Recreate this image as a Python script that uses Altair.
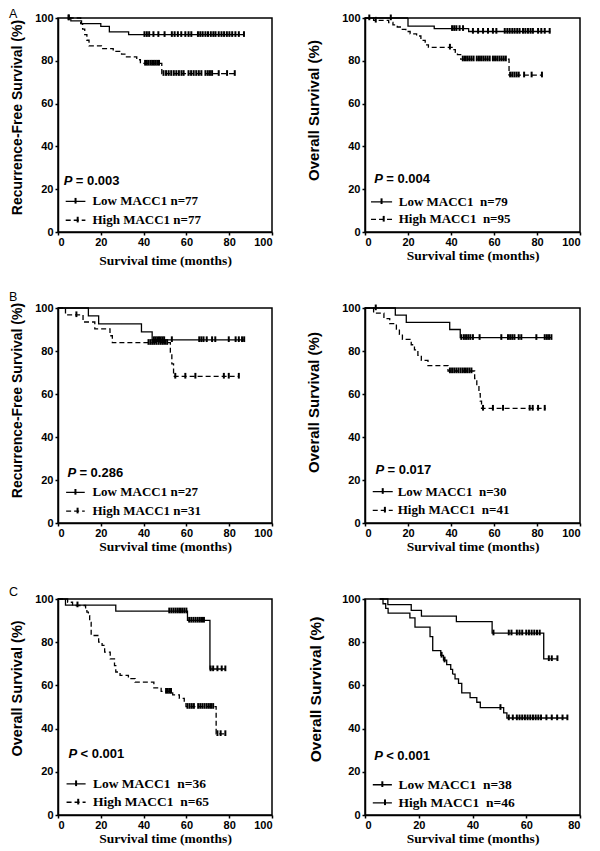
import altair as alt
import pandas as pd

XTITLE = "Survival time (months)"

# ---------------- Panel A left : Recurrence-free survival ----------------
a1_low_t = [5, 6, 11, 20, 24, 33, 86.9]
a1_low_s = [100, 98.7, 97.4, 96.1, 93.5, 92.2, 92.2]
a1_low_c = [5, 40.4, 41.5, 42.6, 44.6, 46.9, 49.8, 53.2, 54.5, 56.0, 57.6, 59.5, 61.0, 62.3,
            65.4, 66.5, 67.6, 68.9, 70.1, 71.4, 72.6, 73.6, 75.1, 76.4, 77.6, 78.9, 80.1,
            81.4, 82.9, 84.5, 86.9]
a1_high_t = [5, 10.6, 11.5, 12.5, 13.5, 14.5, 20.3, 25.8, 29.7, 32.0, 36.8, 38.5, 48.5, 82.6]
a1_high_s = [100, 97.4, 94.8, 92.2, 89.6, 87.0, 85.7, 84.4, 83.1, 81.8, 80.5, 78.8, 74.0, 74.0]
a1_high_c = [5, 40.7, 41.5, 42.3, 43.2, 44.0, 44.8, 45.6, 46.4, 47.2, 49.3, 50.5, 51.7, 52.9,
             54.1, 55.3, 56.5, 57.7, 58.7, 61.0, 62.2, 63.4, 64.6, 65.8, 67.0, 68.9, 70.0,
             71.0, 72.0, 75.1, 79.0, 82.6]

# ---------------- Panel A right : Overall survival ----------------
a2_low_t = [0, 20, 32.2, 48.2, 86.2]
a2_low_s = [100, 96.2, 95.0, 93.7, 93.7]
a2_low_c = [12, 40.5, 41.5, 42.5, 44.0, 45.6, 50.2, 52.6, 54.9, 57.2, 59.5, 61.1, 65.0, 66.2,
            67.3, 68.5, 69.6, 70.8, 71.9, 73.5, 74.6, 75.8, 77.0, 78.1, 80.5, 82.0, 83.6, 85.9]
a2_high_t = [0, 4, 11, 13, 15, 17, 19, 21, 24, 26, 28, 29.5, 40.5, 42, 43, 44.5, 67, 82.3]
a2_high_s = [100, 98.9, 97.9, 96.8, 95.8, 94.7, 93.7, 92.6, 91.6, 89.5, 87.4, 86.3, 85.2, 84.0,
             82.9, 80.8, 73.3, 73.3]
a2_high_c = [2, 5, 39.5, 45.5, 46.5, 47.5, 48.5, 49.5, 50.5, 52, 53, 54, 55, 56, 57, 58, 59.5,
             60.5, 61.5, 62.5, 63.5, 64.5, 65.5, 67.5, 68.5, 69.5, 70.5, 71.5, 74, 77.5, 82.3]

# ---------------- Panel B left : Recurrence-free survival ----------------
b1_low_t = [0, 14.2, 19, 39, 44, 87]
b1_low_s = [100, 96.3, 92.6, 88.9, 85.2, 85.2]
b1_low_c = [44.8, 45.6, 46.4, 47.2, 48.0, 48.8, 49.6, 53.2, 66.0, 67.0, 68.0, 69.5, 72.0, 73.5,
            79.8, 83.0, 84.5, 86.0, 87.0]
b1_high_t = [0, 3.5, 11.7, 17.2, 24.3, 25.4, 52.5, 53.2, 54.0, 84.5]
b1_high_s = [100, 96.8, 93.5, 90.3, 87.1, 83.9, 79.5, 74.0, 68.2, 68.2]
b1_high_c = [8.6, 42.3, 43.2, 44.1, 45.0, 46.0, 47.0, 48.0, 49.0, 50.0, 51.0, 54.8, 59.5, 64.2,
             77.5, 79.8, 84.5]

# ---------------- Panel B right : Overall survival ----------------
b2_low_t = [0, 14.1, 19.2, 39.4, 44.3, 86.7]
b2_low_s = [100, 96.7, 93.3, 90.0, 86.2, 86.2]
b2_low_c = [5, 44.8, 46.0, 47.0, 48.0, 49.0, 50.2, 53.3, 63.4, 66.5, 67.5, 68.5, 69.5, 71.5,
            72.7, 79.7, 83.6, 84.6, 85.6, 86.7]
b2_high_t = [0, 4, 8.8, 11.5, 14.6, 16, 17.4, 21.5, 23, 24.6, 26.2, 29.3, 38.6, 51, 52, 53,
             53.6, 54.2, 84]
b2_high_s = [100, 97.6, 95.1, 92.7, 90.2, 87.8, 85.4, 82.9, 80.5, 78.0, 75.6, 73.2, 70.7, 67.2,
             63.7, 60.2, 56.7, 53.3, 53.3]
b2_high_c = [39.5, 40.5, 41.5, 42.5, 43.5, 44.5, 45.5, 46.5, 47.5, 48.5, 49.5, 54.9, 59.5, 64.2,
             76.6, 78.0, 80.5, 83.6]

# ---------------- Panel C left : Overall survival ----------------
c1_low_t = [0, 3.5, 27, 60.5, 71, 78.2]
c1_low_s = [100, 97.2, 94.4, 90.1, 67.6, 67.6]
c1_low_c = [9.1, 52.0, 53.0, 54.0, 55.0, 56.0, 57.0, 58.0, 59.0, 60.0, 61.3, 62.3, 63.3, 64.3,
            65.3, 66.3, 67.3, 68.2, 71.3, 72.5, 74.5, 76.5, 78.2]
c1_high_t = [0, 4.5, 6.8, 12.9, 13.5, 14.2, 14.8, 15.5, 19, 20.6, 21.8, 24.4, 26.4, 27, 29,
             32.9, 36, 44.8, 48.2, 53.6, 56.7, 59, 59.8, 73.9, 78.2]
c1_high_s = [100, 98.5, 97.0, 95.4, 93.9, 92.3, 89.2, 83.1, 80.0, 78.5, 75.4, 72.3, 69.2, 66.2,
             64.6, 63.1, 61.5, 58.9, 57.2, 55.6, 54.0, 52.4, 50.2, 37.6, 37.6]
c1_high_c = [50.5, 51.3, 52.1, 52.8, 60.5, 61.5, 62.5, 63.5, 65.5, 66.5, 67.5, 68.5, 69.5, 70.5,
             71.5, 72.5, 74.5, 76.0, 78.2]

# ---------------- Panel C right : Overall survival ----------------
c2_low_t = [5.5, 8.5, 17.2, 21, 34, 47.3, 66.5, 71.6]
c2_low_s = [100, 97.4, 94.7, 92.1, 89.5, 84.2, 72.3, 72.3]
c2_low_c = [47.8, 53.5, 54.5, 56.5, 57.5, 58.5, 60.0, 61.0, 62.0, 63.0, 64.0, 65.0, 68.4, 69.5,
            71.6]
c2_high_t = [5.5, 6.7, 7.7, 8.6, 16.7, 18.6, 24.2, 25.2, 28.2, 29.2, 30.4, 31.9, 32.6, 33.5,
             34.8, 36.0, 39.1, 41.6, 42.9, 51.6, 52.8, 75.3]
c2_high_s = [100, 97.8, 95.7, 93.5, 91.3, 87.0, 82.6, 76.1, 73.9, 71.7, 69.6, 67.4, 65.2, 63.0,
             60.9, 56.5, 54.3, 52.2, 49.7, 47.3, 44.9, 44.9]
c2_high_c = [28.5, 29.6, 50.4, 53.5, 55.0, 56.5, 57.5, 58.5, 59.5, 60.5, 61.5, 62.5, 63.5, 64.5,
             65.5, 67.5, 69.5, 71.5, 73.5, 75.3]

# ---------------- texts ----------------
p_values = ["= 0.003", "= 0.004", "= 0.286", "= 0.017", "< 0.001", "< 0.001"]
legend_low = ["Low MACC1 n=77", "Low MACC1\u00a0 n=79", "Low MACC1 n=27",
              "Low MACC1\u00a0 n=30", "Low MACC1\u00a0 n=36", "Low MACC1\u00a0 n=38"]
legend_high = ["High MACC1 n=77", "High MACC1\u00a0 n=95", "High MACC1 n=31",
               "High MACC1\u00a0 n=41", "High MACC1\u00a0 n=65", "High MACC1\u00a0 n=46"]
y_titles = ["Recurrence-Free Survival (%)", "Overall Survival (%)",
            "Recurrence-Free Survival (%)", "Overall Survival (%)",
            "Overall Survival (%)", "Overall Survival (%)"]
letters = ["A", None, "B", None, "C", None]

CENSOR = "M0,-1.1L0,0.7"


def level_at(ts, ss, c):
    lvl = ss[0]
    for t, s in zip(ts, ss):
        if t <= c:
            lvl = s
        else:
            break
    return lvl


def panel(i, low_t, low_s, low_c, high_t, high_s, high_c, xmax, w, h, lay, high_dashed=True):
    curve = pd.DataFrame(
        [{"g": "low", "t": t, "s": s} for t, s in zip(low_t, low_s)]
        + [{"g": "high", "t": t, "s": s} for t, s in zip(high_t, high_s)])
    cens = pd.DataFrame(
        [{"g": "low", "t": c, "s": level_at(low_t, low_s, c)} for c in low_c]
        + [{"g": "high", "t": c, "s": level_at(high_t, high_s, c)} for c in high_c])

    lx1, lx2, ltx, ly1, ly2 = lay["leg"]
    leg = pd.DataFrame([
        {"g": "low", "t": lx1, "t2": lx2, "tm": (lx1 + lx2) / 2, "tx": ltx, "s": ly1,
         "label": legend_low[i]},
        {"g": "high", "t": lx1, "t2": lx2, "tm": (lx1 + lx2) / 2 + 1, "tx": ltx, "s": ly2,
         "label": legend_high[i]},
    ])
    ptab = pd.DataFrame([{"t": lay["p"][0], "s": lay["p"][1], "label": p_values[i]}])

    xaxis = alt.Axis(values=list(range(0, xmax + 1, 20)), title=XTITLE, grid=False,
                     titleY=lay["xty"], titleFont="Liberation Serif", titleFontSize=13.5,
                     titleFontWeight="bold")
    yaxis = alt.Axis(values=[0, 20, 40, 60, 80, 100], title=y_titles[i], grid=False,
                     titleX=lay["ytx"], titleY=lay["yty"], titleFontSize=lay["ytfs"])
    xsc = alt.Scale(domain=[0, xmax], nice=False)
    ysc = alt.Scale(domain=[0, 100], nice=False)
    dash = alt.StrokeDash("g:N", legend=None,
                          scale=alt.Scale(domain=["low", "high"],
                                          range=[[1, 0], [5, 3] if high_dashed else [1, 0]]))

    X = alt.X("t:Q", scale=xsc, axis=xaxis)
    Y = alt.Y("s:Q", scale=ysc, axis=yaxis)
    lines = alt.Chart(curve).mark_line(interpolate="step-after", color="black",
                                       strokeWidth=1.3).encode(
        x=X, y=Y, detail="g:N", strokeDash=dash)
    ticks = alt.Chart(cens).mark_point(shape=CENSOR, size=40, color="black",
                                       strokeWidth=2, opacity=1).encode(x=X, y=Y)
    legr = alt.Chart(leg).mark_rule(color="black", strokeWidth=1.3).encode(
        x=X, x2="t2:Q", y=Y, strokeDash=dash)
    legt = alt.Chart(leg).mark_point(shape=CENSOR, size=40, color="black",
                                     strokeWidth=2, opacity=1).encode(
        x=alt.X("tm:Q", scale=xsc, axis=xaxis), y=Y)
    legx = alt.Chart(leg).mark_text(align="left", baseline="middle", font="Liberation Serif",
                                    fontWeight="bold", fontSize=lay["lfs"], color="black").encode(
        x=alt.X("tx:Q", scale=xsc, axis=xaxis), y=Y, text="label:N")
    pP = alt.Chart(ptab).mark_text(align="left", baseline="alphabetic", font="Liberation Sans",
                                   fontWeight="bold", fontStyle="italic", fontSize=13,
                                   color="black", text="P").encode(x=X, y=Y)
    pV = alt.Chart(ptab).mark_text(align="left", baseline="alphabetic", font="Liberation Sans",
                                   fontWeight="bold", fontSize=13, color="black", dx=12).encode(
        x=X, y=Y, text="label:N")
    layers = [lines, ticks, legr, legt, legx, pP, pV]
    if letters[i]:
        lt = alt.Chart(ptab).mark_text(align="left", baseline="alphabetic",
                                       font="Liberation Sans", fontSize=12.5, color="black",
                                       text=letters[i]).encode(
            x=alt.value(-49), y=alt.value(lay["lety"]))
        layers.append(lt)
    return alt.layer(*layers).properties(width=w, height=h)


pA1 = panel(0, a1_low_t, a1_low_s, a1_low_c, a1_high_t, a1_high_s, a1_high_c, 100, 214, 214,
            {"leg": (3.6, 12.8, 16.1, 14.3, 5.5), "p": (2.7, 21.8), "xty": 21, "ytx": -34,
             "yty": 99, "ytfs": 14, "lfs": 13, "lety": 0})
pA2 = panel(1, a2_low_t, a2_low_s, a2_low_c, a2_high_t, a2_high_s, a2_high_c, 100, 215, 214,
            {"leg": (2.8, 12.6, 15.7, 14.1, 5.9), "p": (4.3, 22.9), "xty": 16, "ytx": -44,
             "yty": 92, "ytfs": 15, "lfs": 13})
pB1 = panel(2, b1_low_t, b1_low_s, b1_low_c, b1_high_t, b1_high_s, b1_high_c, 100, 214, 215,
            {"leg": (3.8, 12.5, 16.1, 14.2, 5.5), "p": (4.4, 21.5), "xty": 16, "ytx": -34,
             "yty": 92, "ytfs": 14, "lfs": 13, "lety": -7})
pB2 = panel(3, b2_low_t, b2_low_s, b2_low_c, b2_high_t, b2_high_s, b2_high_c, 100, 215, 215,
            {"leg": (3.6, 12.9, 15.2, 14.6, 5.9), "p": (4.9, 22.6), "xty": 16, "ytx": -44,
             "yty": 94, "ytfs": 15, "lfs": 13})
pC1 = panel(4, c1_low_t, c1_low_s, c1_low_c, c1_high_t, c1_high_s, c1_high_c, 100, 214, 216,
            {"leg": (4.0, 12.9, 16.3, 14.4, 5.9), "p": (4.9, 26.4), "xty": 16, "ytx": -34,
             "yty": 89, "ytfs": 14.5, "lfs": 13.5, "lety": -3})
pC2 = panel(5, c2_low_t, c2_low_s, c2_low_c, c2_high_t, c2_high_s, c2_high_c, 80, 215, 216,
            {"leg": (2.9, 10.0, 12.5, 14.0, 5.6), "p": (3.4, 25.3), "xty": 16, "ytx": -42,
             "yty": 90, "ytfs": 15.5, "lfs": 13.5}, high_dashed=False)

chart = alt.concat(pA1, pA2, pB1, pB2, pC1, pC2, columns=2,
                   spacing={"row": 76, "column": 93}, bounds="flush").resolve_scale(
    strokeDash="independent"
).properties(
    padding={"left": 0, "top": -1, "right": 0, "bottom": 0}
).configure_view(
    stroke="black", strokeWidth=1.5
).configure_axis(
    domainColor="black", domainWidth=1.5, tickColor="black", tickWidth=1.5, tickSize=3,
    labelFont="Liberation Sans", labelFontWeight="bold", labelFontSize=11, labelColor="black",
    labelPadding=1, titleFont="Liberation Sans", titleFontWeight="bold", titleColor="black"
).configure_axisY(labelPadding=2)

chart.save("out.html", embed_options={"renderer": "svg", "actions": False})
